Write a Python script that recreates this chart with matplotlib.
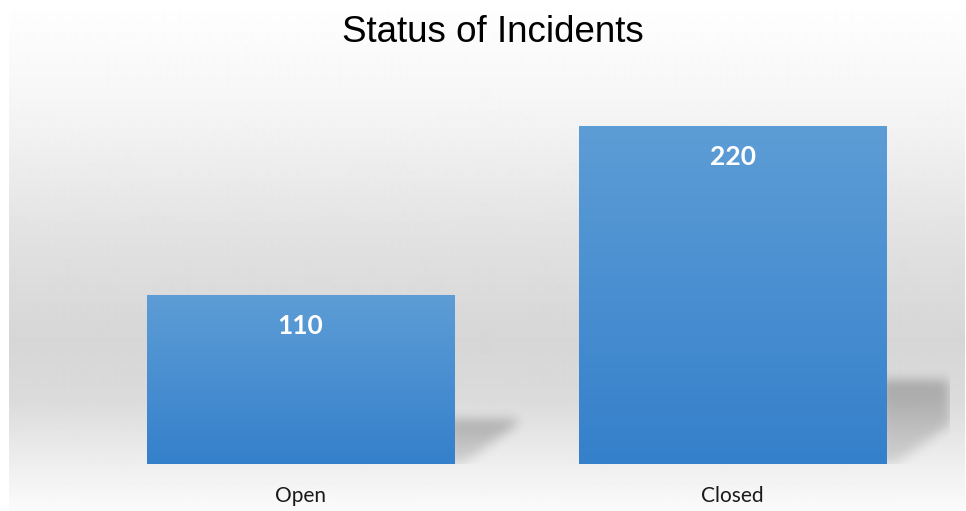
import numpy as np
import matplotlib
matplotlib.use("Agg")
import matplotlib.pyplot as plt
from matplotlib.colors import LinearSegmentedColormap
from matplotlib.path import Path

categories = ["Open", "Closed"]
counts = [110, 220]
title = "Status of Incidents"

W, H = 966, 511
fig = plt.figure(figsize=(W / 100, H / 100), dpi=100, facecolor="white")

# background panel, full figure in pixel coords
bg = fig.add_axes([0, 0, 1, 1])
bg.set_xlim(0, W)
bg.set_ylim(H, 0)
bg.set_axis_off()

ys = np.arange(H)
stops_y = [0, 110, 250, 340, 400, 470, 511]
stops_v = [255, 245, 224, 214, 219, 240, 251]
col = np.interp(ys, stops_y, stops_v) / 255.0
grad = np.repeat(col[:, None], 2, axis=1)
bg.imshow(grad, cmap="gray", vmin=0, vmax=1, extent=[9, 965, H, 0],
          aspect="auto", interpolation="bilinear", zorder=0)

# data axes
ax = fig.add_axes([84 / W, 1 - 464 / H, (949 - 84) / W, (464 - 80) / H])
ax.patch.set_alpha(0)
x = np.arange(len(categories))
bars = ax.bar(x, counts, width=0.71, color="none", edgecolor="none", zorder=3)
ax.set_xlim(-0.5, len(categories) - 0.5)
ax.set_ylim(0, 250)
for s in ax.spines.values():
    s.set_visible(False)
ax.set_yticks([])
ax.set_xticks(x)
ax.set_xticklabels(categories, fontfamily="Lato", fontsize=15, color="#1a1a1a")
ax.tick_params(axis="x", length=0, pad=16)

# bar gradient fill
bar_cmap = LinearSegmentedColormap.from_list("bar", ["#3580cb", "#5d9dd6"])
for b in bars:
    x0, w, h = b.get_x(), b.get_width(), b.get_height()
    g = np.linspace(0, 1, 256)[:, None]
    im = ax.imshow(g, cmap=bar_cmap, extent=[x0, x0 + w, 0, h], origin="lower",
                   aspect="auto", zorder=3)
    im.set_clip_path(b)
    ax.annotate(str(int(h)), (x0 + w / 2, h), xytext=(0, -22.5),
                textcoords="offset points", ha="center", va="center",
                color="white", fontweight="bold", fontfamily="Lato",
                fontsize=19, zorder=5)

# perspective shadows, rasterised in figure pixels
fig.canvas.draw()
shadow = np.zeros((H, W))
YY, XX = np.mgrid[0:H, 0:W] + 0.5
for b in bars:
    (px0, py0), (px1, py1) = ax.transData.transform(
        [(b.get_x(), 0), (b.get_x() + b.get_width(), b.get_height())])
    xr = px1
    yb = H - py0
    ph = py1 - py0
    ytop = yb - (0.23 * ph + 6)
    poly = Path([(xr - 6, yb), (xr - 6, ytop), (xr + 62, ytop),
                 (xr + 64, yb - 40), (xr + 8, yb), (xr - 6, yb)])
    inside = poly.contains_points(np.c_[XX.ravel(), YY.ravel()]).reshape(H, W)
    t = np.clip((YY - ytop) / (yb - ytop), 0, 1)
    shadow = np.maximum(shadow, inside * (1 - 0.5 * t))


def blur(a, sigma):
    r = int(3 * sigma)
    k = np.exp(-0.5 * (np.arange(-r, r + 1) / sigma) ** 2)
    k /= k.sum()
    a = np.apply_along_axis(lambda v: np.convolve(v, k, mode="same"), 0, a)
    a = np.apply_along_axis(lambda v: np.convolve(v, k, mode="same"), 1, a)
    return a


shadow = blur(shadow, 5.5)
shadow[:, 950:] = 0
shadow[464:, :] *= 0.0
rgba = np.zeros((H, W, 4))
rgba[..., 3] = shadow * 0.23
bg.imshow(rgba, extent=[0, W, H, 0], aspect="auto", zorder=1,
          interpolation="nearest")

fig.text(493 / W, 1 - 32 / H, title, ha="center", va="center",
         fontfamily="Liberation Sans", fontsize=26.5, color="black")

fig.savefig("out.png", dpi=100, facecolor="white")
